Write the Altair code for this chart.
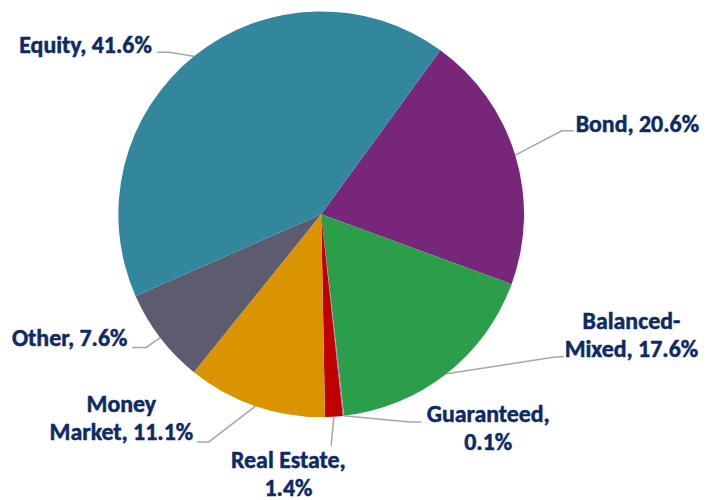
import math
import altair as alt
import pandas as pd

# ---- data ----
categories = ["Bond", "Balanced-Mixed", "Guaranteed", "Real Estate", "Money Market", "Other", "Equity"]
shares = [20.6, 17.6, 0.1, 1.4, 11.1, 7.6, 41.6]
label_texts = ["Bond, 20.6%", "Balanced-\nMixed, 17.6%", "Guaranteed,\n0.1%", "Real Estate,\n1.4%",
               "Money\nMarket, 11.1%", "Other, 7.6%", "Equity, 41.6%"]
colors = ["#78267A", "#2A9E48", "#9C8EC6", "#C00000", "#D99400", "#5C5B70", "#33879D"]

# ---- layout (page pixels, converted to plot pixels below) ----
M = 8
CX, CY, R = 323 - M, 214 - M, 204
START_DEG = 36
label_cx = [641, 635, 491, 290, 122, 70, 86]
label_base = [131, 329, 423, 469, 413, 347, 52]
# leader elbow points after the slice edge point
leader_pts = [
    [(565, 130), (577, 130)],
    [(555, 358), (567, 357)],
    [(412, 423), (424, 423)],
    [(333, 447)],
    [(210, 443), (198, 443)],
    [(147, 348), (133, 348)],
    [(170, 51), (158, 51)],
]

total = sum(shares)
pie_df = pd.DataFrame({"cat": categories, "share": shares, "idx": list(range(len(categories)))})

# leader lines: start at slice mid-angle on the rim
rows = []
cum = 0.0
for i, (c, s) in enumerate(zip(categories, shares)):
    mid = math.radians(START_DEG + (cum + s / 2) / total * 360)
    cum += s
    pts = [(CX + R * math.sin(mid), CY - R * math.cos(mid))] + [(x - M, y - M) for x, y in leader_pts[i]]
    for k, (x, y) in enumerate(pts):
        rows.append({"cat": c, "k": k, "x": x, "y": y})
lead_df = pd.DataFrame(rows)

lab_df = pd.DataFrame({"cat": categories, "text": label_texts,
                       "x": [v - M for v in label_cx], "y": [v - M for v in label_base]})

start = math.radians(START_DEG)
pie = alt.Chart(pie_df).mark_arc(outerRadius=R).encode(
    theta=alt.Theta("share:Q", stack=True, scale=alt.Scale(range=[start, start + 2 * math.pi])),
    order=alt.Order("idx:Q"),
    color=alt.Color("cat:N", scale=alt.Scale(domain=categories, range=colors), legend=None),
    x=alt.value(CX),
    y=alt.value(CY),
)

leaders = alt.Chart(lead_df).mark_line(color="#A6A6A6", strokeWidth=1.5).encode(
    x=alt.X("x:Q", scale=None),
    y=alt.Y("y:Q", scale=None),
    detail="cat:N",
    order="k:Q",
)

labels = alt.Chart(lab_df).mark_text(
    font="Carlito, Lato, sans-serif", fontSize=24, fontWeight="bold", color="#0E2A66",
    stroke="#0E2A66", strokeWidth=0.5,
    align="center", baseline="alphabetic", lineBreak="\n", lineHeight=28.5,
).encode(
    x=alt.X("x:Q", scale=None),
    y=alt.Y("y:Q", scale=None),
    text="text:N",
)

chart = alt.layer(pie, leaders, labels).properties(
    width=692, height=484, padding=0
).configure_view(stroke=None)

chart.save("out.html", embed_options={"renderer": "svg", "actions": False})
